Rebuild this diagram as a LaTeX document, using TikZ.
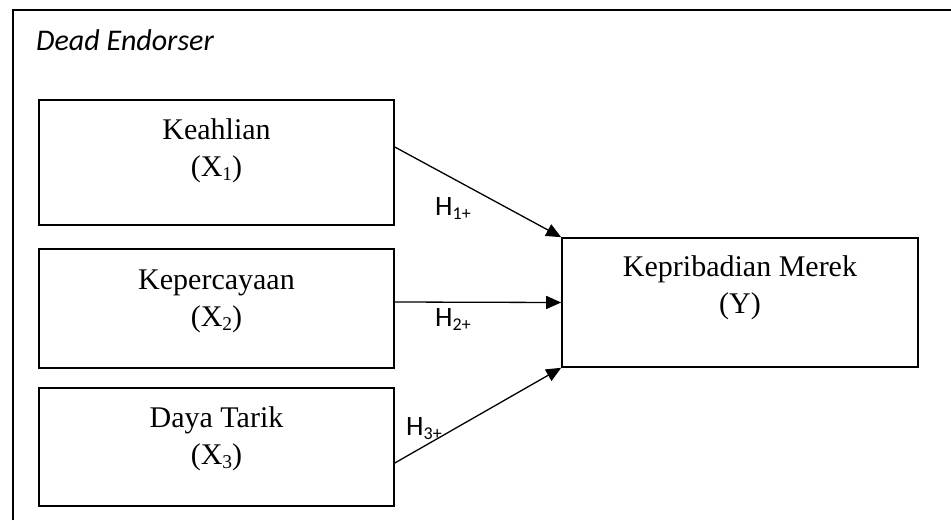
\documentclass[tikz,border=0pt]{standalone}
\usepackage{fontspec}
\setmainfont{Liberation Serif}
\newfontfamily\carl{Carlito}
\usetikzlibrary{arrows.meta}
\newcommand\subx[1]{\raisebox{-4pt}{\fontsize{19.5}{19.5}\selectfont #1}}
\newcommand\subh[1]{\raisebox{-4pt}{\fontsize{18}{18}\selectfont #1}}
\begin{document}
\begin{tikzpicture}[x=1pt,y=-1pt,
  varbox/.style={draw=black,line width=1.6pt,rectangle,inner sep=0pt},
  boxtext/.style={anchor=base,align=center,inner sep=0pt,font=\fontsize{30}{36.5}\selectfont},
  hlabel/.style={anchor=base west,inner sep=0pt,font=\carl\fontsize{28}{30}\selectfont},
  arr/.style={line width=1.3pt,-{Triangle[length=15pt,width=13pt]}}]
\useasboundingbox (0,0) rectangle (951,520);
\fill[white] (0,0) rectangle (951,520);
% outer frame (open at right and bottom)
\draw[line width=1.6pt] (13,520) -- (13,10) -- (951,10);
\node[anchor=base west,inner sep=0pt,font=\carl\itshape\fontsize{30}{31}\selectfont] (title) at (36,50) {Dead Endorser};
% boxes
\node[varbox,minimum width=355pt,minimum height=125pt] (b1) at (216.5,162.5) {};
\node[varbox,minimum width=355pt,minimum height=119pt] (b2) at (216.5,308.5) {};
\node[varbox,minimum width=355pt,minimum height=118pt] (b3) at (216.5,447) {};
\node[varbox,minimum width=356pt,minimum height=129pt] (y) at (740,302.5) {};
% texts (anchored at the baseline of the last line)
\node[boxtext] (t1) at (216.5,176) {Keahlian\\(X\subx{1})};
\node[boxtext] (t2) at (216.5,326) {Kepercayaan\\(X\subx{2})};
\node[boxtext] (t3) at (216.5,464) {Daya Tarik\\(X\subx{3})};
\node[boxtext] (ty) at (740,313) {Kepribadian Merek\\(Y)};
% arrows
\draw[arr] ([yshift=15.5pt]b1.east) -- (y.north west);
\draw[arr] ([yshift=6.5pt]b2.east) -- (y.west);
\draw[arr] ([yshift=-16pt]b3.east) -- (y.south west);
% labels
\node[hlabel] (h1) at (435,215) {H\subh{1+}};
\node[hlabel] (h2) at (435,326) {H\subh{2+}};
\node[hlabel] (h3) at (406,435) {H\subh{3+}};
\end{tikzpicture}
\end{document}
